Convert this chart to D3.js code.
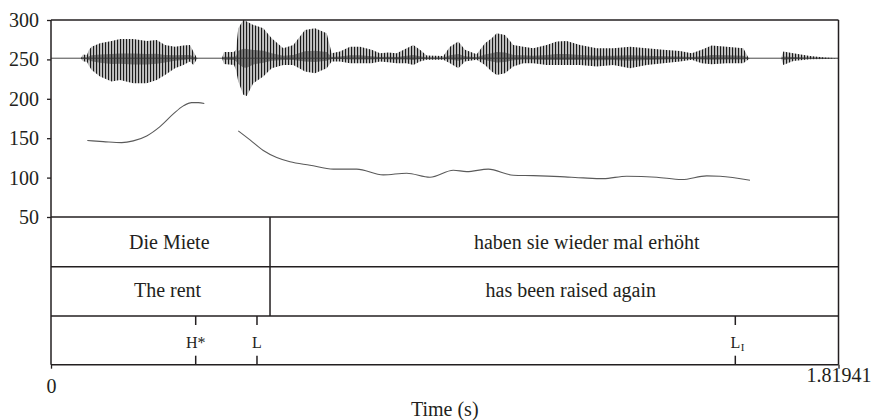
<!DOCTYPE html>
<html>
<head>
<meta charset="utf-8">
<script src="https://cdn.jsdelivr.net/npm/d3@7"></script>
<style>
  body { margin: 0; background: #fff; }
  svg text { font-family: "Liberation Serif", "Times New Roman", serif; fill: #231f20; }
</style>
</head>
<body>
<svg id="chart" width="872" height="420"></svg>
<script>
// ── Data ──────────────────────────────────────────────────────────────────
const T_END = 1.81941;
const yTicks = [50, 100, 150, 200, 250, 300];
const xTicks = [0, T_END];

// waveform envelope (drawn in the top band, axis units)
const waveT   = [0.0693, 0.0739, 0.0832, 0.0878, 0.0940, 0.1132, 0.1402, 0.1594, 0.1901, 0.2211,
                 0.2442, 0.2634, 0.2865, 0.3057, 0.3211, 0.3288, 0.3366, 0.3396, 0.3951, 0.3997,
                 0.4228, 0.4274, 0.4327, 0.4443, 0.4522, 0.4674, 0.4905, 0.5099, 0.5367, 0.5598,
                 0.5868, 0.6099, 0.6370, 0.6485, 0.6677, 0.6908, 0.7139, 0.7410, 0.7601, 0.7793,
                 0.7987, 0.8218, 0.8371, 0.8525, 0.8680, 0.9064, 0.9218, 0.9410, 0.9565, 0.9835,
                 1.0027, 1.0182, 1.0297, 1.0489, 1.0681, 1.0912, 1.1143, 1.1453, 1.1684, 1.1915,
                 1.2222, 1.2608, 1.2991, 1.3377, 1.3763, 1.4147, 1.4532, 1.4803, 1.5034, 1.5265,
                 1.5611, 1.5995, 1.6110, 1.6150, 1.6866, 1.6919, 1.7150, 1.7536, 1.7882, 1.81941];
const waveTop = [251.5, 256.3, 255.7, 262.1, 266.2, 270.5, 273.5, 276.0, 276.0, 273.5,
                 274.7, 268.4, 266.2, 267.5, 268.4, 259.9, 252.5, 251.5, 251.5, 259.5,
                 259.5, 262.1, 289.6, 300.0, 298.0, 293.8, 289.6, 276.9, 264.2, 268.4,
                 287.4, 289.6, 283.2, 257.9, 259.9, 266.2, 266.2, 262.1, 257.9, 258.6,
                 257.9, 264.2, 268.4, 262.1, 254.8, 254.4, 266.2, 272.6, 262.1, 256.6,
                 270.5, 276.9, 283.2, 281.1, 268.4, 266.2, 264.2, 268.4, 272.6, 273.5,
                 268.4, 264.2, 264.2, 266.2, 264.2, 262.1, 260.8, 257.9, 262.1, 267.5,
                 266.2, 264.2, 252.5, 251.5, 251.5, 259.9, 257.9, 254.4, 252.5, 251.5];
const waveBot = [251.5, 247.5, 246.8, 241.7, 236.7, 228.2, 221.8, 224.0, 219.8, 219.8,
                 224.0, 230.3, 238.8, 243.0, 247.2, 243.0, 250.0, 251.5, 251.5, 244.3,
                 243.0, 236.7, 221.8, 205.0, 203.7, 219.8, 228.2, 238.8, 243.0, 243.0,
                 234.5, 232.5, 238.8, 247.2, 247.2, 245.2, 245.2, 245.2, 247.2, 246.4,
                 245.2, 245.2, 243.0, 247.2, 249.4, 249.4, 245.2, 238.8, 247.2, 249.4,
                 243.0, 234.5, 230.3, 232.5, 240.9, 245.2, 245.2, 243.0, 243.0, 243.0,
                 243.0, 240.9, 243.0, 238.8, 243.0, 245.2, 247.2, 249.4, 245.2, 243.9,
                 245.2, 245.2, 250.0, 251.5, 251.5, 243.0, 248.1, 250.2, 250.6, 251.5];
const waveZero = 251.5;

// pitch track, two voiced stretches (Hz)
const f0aT  = [0.0839, 0.1208, 0.1633, 0.1901, 0.2211, 0.2518, 0.2826, 0.3057, 0.3251, 0.3403, 0.3542];
const f0aHz = [147.0, 145.7, 144.4, 146.6, 152.9, 164.7, 180.8, 191.0, 195.2, 195.2, 194.0];
const f0bT  = [0.4327, 0.4598, 0.4905, 0.5215, 0.5522, 0.5984, 0.6522, 0.7063, 0.7677, 0.8218,
               0.8756, 0.9295, 0.9604, 1.0103, 1.0681, 1.1143, 1.1760, 1.2298, 1.2760, 1.3301,
               1.3994, 1.4572, 1.5149, 1.5457, 1.6150];
const f0bHz = [159.3, 147.8, 134.3, 125.4, 120.0, 115.7, 110.7, 110.7, 103.4, 105.6,
               100.5, 109.4, 107.6, 110.7, 103.0, 102.5, 101.3, 99.6, 98.7, 101.8,
               100.5, 97.5, 102.2, 101.8, 96.7];

// annotation tiers
const boundaryT = [0.506];
const wordText  = ["Die Miete", "haben sie wieder mal erhöht"];
const wordT     = [0.2733, 1.2377];
const glossText = ["The rent", "has been raised again"];
const glossT    = [0.2692, 1.2010];
const toneText  = ["H*", "L", "L"];
const toneSub   = ["", "", "I"];
const toneT     = [0.3343, 0.4759, 1.5810];

// ── Layout ────────────────────────────────────────────────────────────────
const INK = '#231f20';
const X0 = 51, X1 = 838.5;
const Y_TOP = 20, Y_PLOT = 217;
const tierY = [217, 266.7, 316, 364.7];

const svg = d3.select('#chart');
const x = d3.scaleLinear().domain([0, T_END]).range([X0, X1]);
const y = d3.scaleLinear().domain([50, 300]).range([Y_PLOT, Y_TOP]);

// ── Waveform ──────────────────────────────────────────────────────────────
const defs = svg.append('defs');
const pat = defs.append('pattern').attr('id', 'pulses')
  .attr('patternUnits', 'userSpaceOnUse').attr('width', 3).attr('height', 10);
pat.append('rect').attr('width', 3).attr('height', 10).attr('fill', '#c4c4c4');
pat.append('rect').attr('width', 1.1).attr('height', 10).attr('fill', '#1a1a1a');

const wave = waveT.map((t, i) => ({ t, top: waveTop[i], bot: waveBot[i] }));
const waveArea = d3.area().x(d => x(d.t)).y0(d => y(d.bot)).y1(d => y(d.top));
svg.append('path').attr('d', waveArea(wave)).attr('fill', 'url(#pulses)');

// darker core close to zero line
const coreArea = d3.area().x(d => x(d.t))
  .y0(d => y(waveZero + (d.bot - waveZero) * 0.25))
  .y1(d => y(waveZero + (d.top - waveZero) * 0.25));
svg.append('path').attr('d', coreArea(wave)).attr('fill', '#2a2a2a').attr('opacity', 0.5);

svg.append('line')
  .attr('x1', x(0)).attr('x2', x(T_END))
  .attr('y1', y(waveZero)).attr('y2', y(waveZero))
  .attr('stroke', '#333').attr('stroke-width', 0.9);

// ── Pitch track ───────────────────────────────────────────────────────────
const f0Line = d3.line().x(d => x(d[0])).y(d => y(d[1])).curve(d3.curveMonotoneX);
[[f0aT, f0aHz], [f0bT, f0bHz]].forEach(([ts, hz]) => {
  svg.append('path')
    .attr('d', f0Line(ts.map((t, i) => [t, hz[i]])))
    .attr('fill', 'none').attr('stroke', '#5a5a5a').attr('stroke-width', 1.1);
});

// ── Frame and tiers ───────────────────────────────────────────────────────
const frame = svg.append('g').attr('stroke', INK).attr('stroke-width', 1.5).attr('fill', 'none');
frame.append('line').attr('x1', X0).attr('x2', X1).attr('y1', Y_TOP).attr('y2', Y_TOP);
tierY.forEach(ty => frame.append('line').attr('x1', X0).attr('x2', X1).attr('y1', ty).attr('y2', ty));
frame.append('line').attr('x1', X0).attr('x2', X0).attr('y1', Y_TOP).attr('y2', tierY[3]);
frame.append('line').attr('x1', X1).attr('x2', X1).attr('y1', Y_TOP).attr('y2', tierY[3]);

boundaryT.forEach(t => {
  frame.append('line').attr('x1', x(t)).attr('x2', x(t)).attr('y1', tierY[0]).attr('y2', tierY[2]);
});

svg.selectAll('text.word').data(wordText).join('text')
  .attr('class', 'word')
  .attr('x', (d, i) => x(wordT[i])).attr('y', tierY[0] + 31.5)
  .attr('text-anchor', 'middle').attr('font-size', 20).text(d => d);

svg.selectAll('text.gloss').data(glossText).join('text')
  .attr('class', 'gloss')
  .attr('x', (d, i) => x(glossT[i])).attr('y', tierY[1] + 30)
  .attr('text-anchor', 'middle').attr('font-size', 20).text(d => d);

// tone tier: point events with short ticks at top and bottom
toneT.forEach((t, i) => {
  const px = x(t);
  frame.append('line').attr('x1', px).attr('x2', px).attr('y1', tierY[2]).attr('y2', tierY[2] + 9);
  frame.append('line').attr('x1', px).attr('x2', px).attr('y1', tierY[3] - 9).attr('y2', tierY[3]);
  const lbl = svg.append('text')
    .attr('x', px).attr('y', tierY[2] + 31.5)
    .attr('text-anchor', 'middle').attr('font-size', 16).text(toneText[i]);
  if (toneSub[i]) {
    const w = lbl.node().getComputedTextLength();
    svg.append('text')
      .attr('x', px + w / 2 + 0.5).attr('y', tierY[2] + 35)
      .attr('font-size', 11).text(toneSub[i]);
  }
});

// ── Axes ──────────────────────────────────────────────────────────────────
const yAxis = svg.append('g')
  .attr('transform', `translate(${X0},0)`)
  .call(d3.axisLeft(y).tickValues(yTicks).tickFormat(d3.format('d')).tickSize(4).tickPadding(8));
yAxis.select('.domain').remove();
yAxis.selectAll('line').attr('stroke', INK).attr('stroke-width', 1.3);
yAxis.selectAll('text').attr('font-size', 20).attr('fill', INK)
  .attr('font-family', '"Liberation Serif", serif');

const xAxis = svg.append('g')
  .attr('transform', `translate(0,${tierY[3]})`)
  .call(d3.axisBottom(x).tickValues(xTicks).tickFormat(d => d === 0 ? '0' : String(T_END))
    .tickSize(4).tickPadding(10));
xAxis.select('.domain').remove();
xAxis.selectAll('line').attr('stroke', INK).attr('stroke-width', 1.3);
xAxis.selectAll('text').attr('font-size', 20).attr('fill', INK)
  .attr('font-family', '"Liberation Serif", serif');
xAxis.selectAll('text').filter(d => d === T_END).attr('dy', '0.15em');

svg.append('text')
  .attr('x', (X0 + X1) / 2).attr('y', 416)
  .attr('text-anchor', 'middle').attr('font-size', 20)
  .text('Time (s)');
</script>
</body>
</html>
